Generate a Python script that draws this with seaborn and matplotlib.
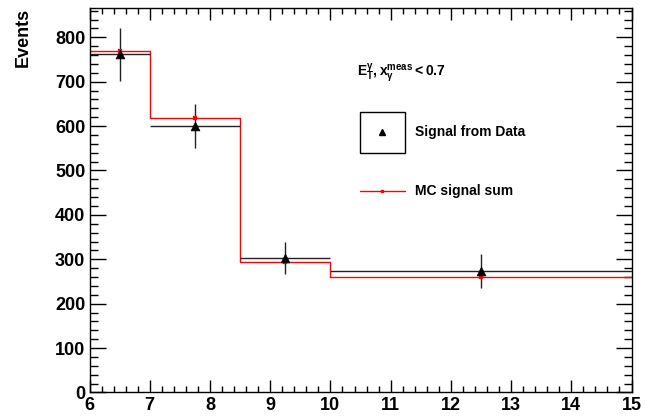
import numpy as np
import pandas as pd
import seaborn as sns
import matplotlib.pyplot as plt
from matplotlib.ticker import MultipleLocator
from matplotlib.patches import Rectangle
from matplotlib.lines import Line2D

# bins in E_T (GeV)
bin_edges = [6, 7, 8.5, 10, 15]
bin_centers = [6.5, 7.75, 9.25, 12.5]

# signal from data
data_events = [762, 600, 304, 273]
data_err = [60, 49, 36, 38]

# MC signal sum
mc_events = [769, 619, 293, 261]


class BoxMarker:
    # ROOT style legend entry: framed box with the marker in the middle
    def __init__(self, marker, color, boxed, line):
        self.marker, self.color, self.boxed, self.line = marker, color, boxed, line

    def legend_artist(self, legend, orig_handle, fontsize, handlebox):
        x0, y0 = -handlebox.xdescent, -handlebox.ydescent
        w, h = handlebox.width, handlebox.height
        tr = handlebox.get_transform()
        first = None
        if self.boxed:
            first = Rectangle((x0, y0), w, h, facecolor="white", edgecolor="black",
                              linewidth=1.0, transform=tr)
            handlebox.add_artist(first)
        if self.line:
            ln = Line2D([x0, x0 + w], [y0 + h / 2] * 2, color=self.color,
                        linewidth=1.0, transform=tr)
            handlebox.add_artist(ln)
            first = first or ln
        mk = Line2D([x0 + w / 2], [y0 + h / 2], marker=self.marker, color=self.color,
                    markersize=5 if self.marker == "^" else 2, linestyle="none",
                    transform=tr)
        handlebox.add_artist(mk)
        return first or mk


sns.set_style("ticks")
font = ["Liberation Sans", "DejaVu Sans"]
plt.rcParams["font.family"] = font
plt.rcParams["font.weight"] = "bold"
plt.rcParams["text.color"] = "black"
plt.rcParams["axes.labelcolor"] = "black"
plt.rcParams["xtick.color"] = "black"
plt.rcParams["ytick.color"] = "black"
plt.rcParams["mathtext.fontset"] = "custom"
plt.rcParams["mathtext.bf"] = "Liberation Sans:bold"
plt.rcParams["mathtext.rm"] = "Liberation Sans:bold"
plt.rcParams["mathtext.it"] = "Liberation Sans:bold"

fig = plt.figure(figsize=(6.45, 4.16), dpi=100)
ax = fig.add_axes([0.1388, 0.0565, 0.8403, 0.9243])

mc = pd.DataFrame({"x": bin_centers, "w": mc_events})
sns.histplot(data=mc, x="x", weights="w", bins=bin_edges, element="step",
             fill=False, color="red", linewidth=1.0, ax=ax)
sns.scatterplot(data=mc, x="x", y="w", marker="s", s=6, color="red",
                edgecolor="red", ax=ax, zorder=4)

xerr = [[c - lo for c, lo in zip(bin_centers, bin_edges[:-1])],
        [hi - c for c, hi in zip(bin_centers, bin_edges[1:])]]
ax.errorbar(bin_centers, data_events, xerr=xerr, yerr=data_err, fmt="none",
            ecolor="#222222", elinewidth=1.0, capsize=0, zorder=3)
df = pd.DataFrame({"x": bin_centers, "y": data_events})
sns.scatterplot(data=df, x="x", y="y", marker="^", s=40, color="black",
                edgecolor="black", ax=ax, zorder=5)

ax.set_xlim(6, 15)
ax.set_ylim(0, 866)
ax.set_xlabel("")
ax.set_ylabel("Events", fontsize=13, fontweight="bold", color="black")
ax.yaxis.set_label_coords(-0.106, 1.0)
ax.yaxis.label.set_horizontalalignment("right")

ax.xaxis.set_major_locator(MultipleLocator(1))
ax.xaxis.set_minor_locator(MultipleLocator(0.2))
ax.yaxis.set_major_locator(MultipleLocator(100))
ax.yaxis.set_minor_locator(MultipleLocator(20))
ax.tick_params(axis="both", which="both", direction="in", top=True, right=True,
               labelsize=13, width=1, color="black", labelcolor="black")
ax.tick_params(axis="x", which="major", length=8.5, pad=3.5)
ax.tick_params(axis="x", which="minor", length=4.3)
ax.tick_params(axis="y", which="major", length=11.5, pad=3)
ax.tick_params(axis="y", which="minor", length=5.8)
for lab in ax.get_xticklabels() + ax.get_yticklabels():
    lab.set_fontweight("bold")
for sp in ax.spines.values():
    sp.set_linewidth(1.0)
    sp.set_color("black")

ax.text(0.494, 0.822, r"$\mathbf{E_{T}^{\gamma}, x_{\gamma}^{meas} < 0.7}$",
        transform=ax.transAxes, fontsize=10, ha="left", va="baseline")

h_data = Line2D([], [], marker="^", color="black")
h_mc = Line2D([], [], marker="s", color="red")
fs = 10
px = fs * 100 / 72
# legend subtracts a descent from the handle height, so solve for a 41 px box
hh = (41 / px - 0.245) / 0.65
leg = ax.legend([h_data, h_mc], ["Signal from Data", "MC signal sum"],
                handler_map={h_data: BoxMarker("^", "black", True, False),
                             h_mc: BoxMarker("s", "red", False, True)},
                loc="upper left", bbox_to_anchor=(0.499, 0.730), frameon=False,
                borderpad=0, borderaxespad=0,
                handlelength=45 / px, handleheight=hh,
                handletextpad=10 / px, labelspacing=18 / px,
                prop={"family": font, "weight": "bold", "size": fs})

fig.savefig("out.png", dpi=100)
